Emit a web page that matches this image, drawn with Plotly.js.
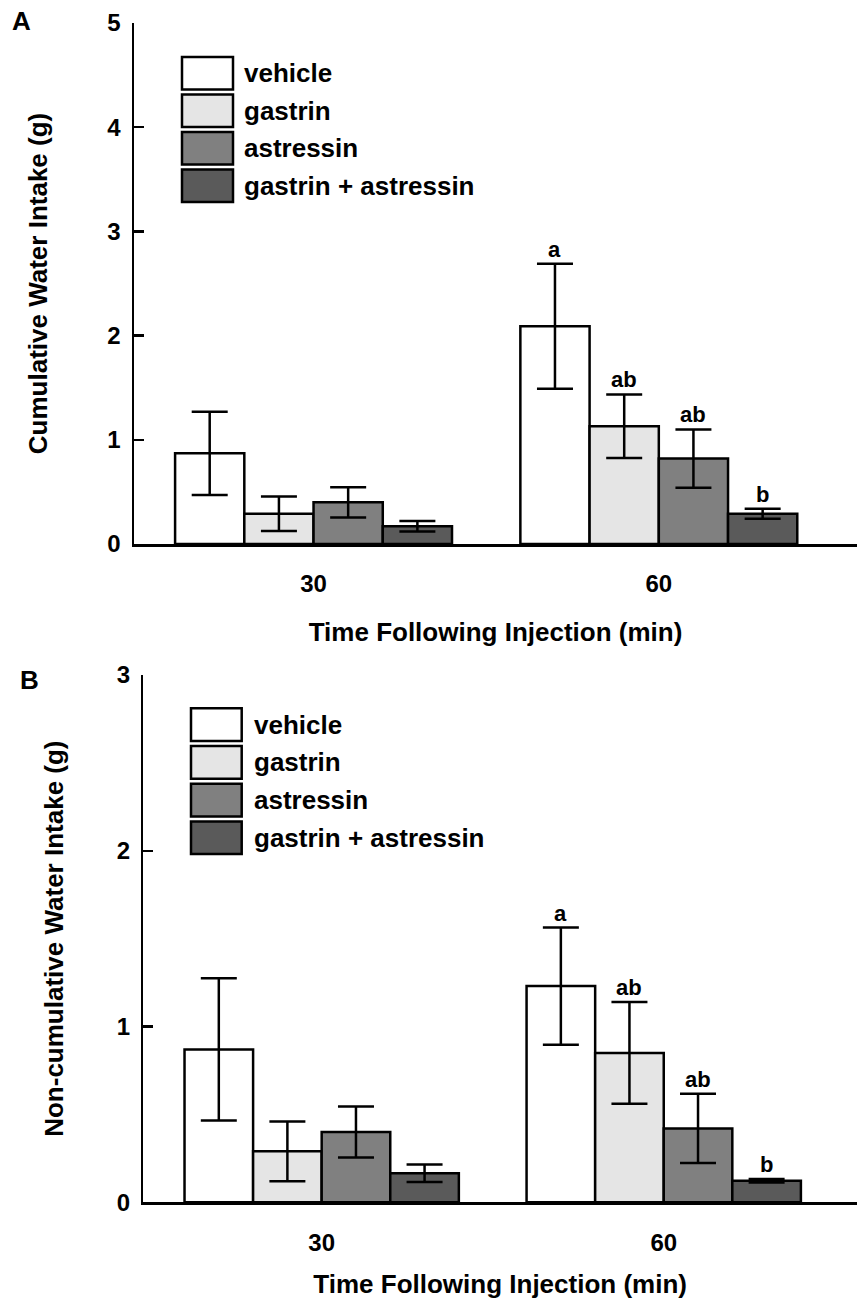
<!DOCTYPE html>
<html>
<head>
<meta charset="utf-8">
<script src="https://cdn.plot.ly/plotly-3.0.1.min.js"></script>
<style>
  html, body { margin: 0; padding: 0; background: #fff; }
  #chart { width: 857px; height: 1299px; }
</style>
</head>
<body>
<div id="chart"></div>
<script>
// ---------------- DATA ----------------
const timePoints = ['30', '60'];
const seriesNames = ['vehicle', 'gastrin', 'astressin', 'gastrin + astressin'];
const seriesColors = ['#ffffff', '#e5e5e5', '#808080', '#5a5a5a'];

// Panel A: cumulative water intake (g), per series: [30 min, 60 min]
const cumVehicle   = [0.87, 2.09];
const cumGastrin   = [0.29, 1.13];
const cumAstressin = [0.40, 0.82];
const cumCombo     = [0.17, 0.29];
const cumVehicleErr   = [0.40, 0.60];
const cumGastrinErr   = [0.165, 0.305];
const cumAstressinErr = [0.145, 0.28];
const cumComboErr     = [0.05, 0.048];
const cumSig60 = ['a', 'ab', 'ab', 'b'];

// Panel B: non-cumulative water intake (g)
const nonVehicle   = [0.87, 1.23];
const nonGastrin   = [0.29, 0.85];
const nonAstressin = [0.40, 0.42];
const nonCombo     = [0.165, 0.123];
const nonVehicleErr   = [0.405, 0.333];
const nonGastrinErr   = [0.17, 0.29];
const nonAstressinErr = [0.145, 0.197];
const nonComboErr     = [0.05, 0.01];
const nonSig60 = ['a', 'ab', 'ab', 'b'];

const xTitle = 'Time Following Injection (min)';
const yTitleA = 'Cumulative Water Intake (g)';
const yTitleB = 'Non-cumulative Water Intake (g)';

// ---------------- LAYOUT HELPERS ----------------
const W = 857, H = 1299;
const FONT = 'Liberation Sans, Arial, Helvetica, sans-serif';
const px = x => x / W;
const py = y => 1 - y / H;
const BARGAP = 0.198;
const nSeries = seriesNames.length;
const barW = (1 - BARGAP) / nSeries;

const cumVals = [cumVehicle, cumGastrin, cumAstressin, cumCombo];
const cumErrs = [cumVehicleErr, cumGastrinErr, cumAstressinErr, cumComboErr];
const nonVals = [nonVehicle, nonGastrin, nonAstressin, nonCombo];
const nonErrs = [nonVehicleErr, nonGastrinErr, nonAstressinErr, nonComboErr];

function makeTraces(vals, errs, xa, ya) {
  return vals.map((v, i) => ({
    type: 'bar',
    x: timePoints,
    y: v,
    name: seriesNames[i],
    xaxis: xa, yaxis: ya,
    showlegend: false,
    marker: { color: seriesColors[i], line: { color: '#000', width: 2.5 } },
    error_y: { type: 'data', array: errs[i], visible: true, color: '#000', thickness: 2.5, width: 18 }
  }));
}

const data = [].concat(
  makeTraces(cumVals, cumErrs, 'x', 'y'),
  makeTraces(nonVals, nonErrs, 'x2', 'y2')
);

const tickFont = { family: FONT, size: 24, color: '#000', weight: 'bold' };
const titleFont = { family: FONT, size: 26, color: '#000', weight: 'bold' };

function sigAnnotations(vals, errs, sig, xref, yref) {
  return sig.map((s, i) => ({
    xref: xref, yref: yref,
    x: 1 + (i - (nSeries - 1) / 2) * barW,
    y: vals[i][1] + errs[i][1],
    text: s, showarrow: false,
    yanchor: 'bottom', yshift: 0,
    font: { family: FONT, size: 22, color: '#000', weight: 'bold' }
  }));
}

function legendItems(x0, x1, yTop, pitch, boxH, textX) {
  const shapes = [], anns = [];
  seriesNames.forEach((n, i) => {
    const y0 = yTop + i * pitch;
    shapes.push({
      type: 'rect', xref: 'paper', yref: 'paper',
      x0: px(x0), x1: px(x1), y0: py(y0), y1: py(y0 + boxH),
      fillcolor: seriesColors[i], line: { color: '#000', width: 2.5 }
    });
    anns.push({
      xref: 'paper', yref: 'paper', x: px(textX), y: py(y0 + boxH / 2),
      xanchor: 'left', yanchor: 'middle', text: n, showarrow: false,
      font: { family: FONT, size: 26, color: '#000', weight: 'bold' }
    });
  });
  return { shapes, anns };
}

const legA = legendItems(182, 233, 57, 37.5, 32.5, 242);
const legB = legendItems(191, 241.7, 708.3, 37.7, 32.7, 252);

const axisCommon = {
  showline: true, linecolor: '#000', linewidth: 2.5,
  showgrid: false, zeroline: false, fixedrange: true
};

const layout = {
  width: W, height: H,
  margin: { l: 0, r: 0, t: 0, b: 0 },
  paper_bgcolor: '#fff', plot_bgcolor: '#fff',
  barmode: 'group', bargap: BARGAP, bargroupgap: 0,
  showlegend: false,
  font: { family: FONT, color: '#000' },
  xaxis: Object.assign({}, axisCommon, {
    domain: [px(134), 1], anchor: 'y', type: 'category',
    range: [-0.52, 1.574], ticks: '', tickfont: tickFont, ticklabelstandoff: 17,
    title: { text: xTitle, font: titleFont, standoff: 27 }
  }),
  yaxis: Object.assign({}, axisCommon, {
    domain: [py(544), py(23)], anchor: 'x', range: [0, 5], dtick: 1,
    ticks: 'inside', ticklen: 10, tickwidth: 2.5, tickcolor: '#000',
    tickfont: tickFont, ticklabelstandoff: 6,
    title: { text: yTitleA, font: titleFont, standoff: 52 }
  }),
  xaxis2: Object.assign({}, axisCommon, {
    domain: [px(143.3), 1], anchor: 'y2', type: 'category',
    range: [-0.5215, 1.565], ticks: '', tickfont: tickFont, ticklabelstandoff: 17,
    title: { text: xTitle, font: titleFont, standoff: 28 }
  }),
  yaxis2: Object.assign({}, axisCommon, {
    domain: [py(1202.3), py(675)], anchor: 'x2', range: [0, 3], dtick: 1,
    ticks: 'inside', ticklen: 10, tickwidth: 2.5, tickcolor: '#000',
    tickfont: tickFont, ticklabelstandoff: 6,
    title: { text: yTitleB, font: titleFont, standoff: 46 }
  }),
  shapes: legA.shapes.concat(legB.shapes),
  annotations: [].concat(
    legA.anns, legB.anns,
    sigAnnotations(cumVals, cumErrs, cumSig60, 'x', 'y'),
    sigAnnotations(nonVals, nonErrs, nonSig60, 'x2', 'y2'),
    [
      { xref: 'paper', yref: 'paper', x: px(21), y: py(21), text: 'A', showarrow: false,
        xanchor: 'center', yanchor: 'middle', font: { family: FONT, size: 26, color: '#000', weight: 'bold' } },
      { xref: 'paper', yref: 'paper', x: px(30), y: py(680), text: 'B', showarrow: false,
        xanchor: 'center', yanchor: 'middle', font: { family: FONT, size: 26, color: '#000', weight: 'bold' } }
    ]
  )
};

Plotly.newPlot('chart', data, layout, { staticPlot: true, displayModeBar: false });
</script>
</body>
</html>
